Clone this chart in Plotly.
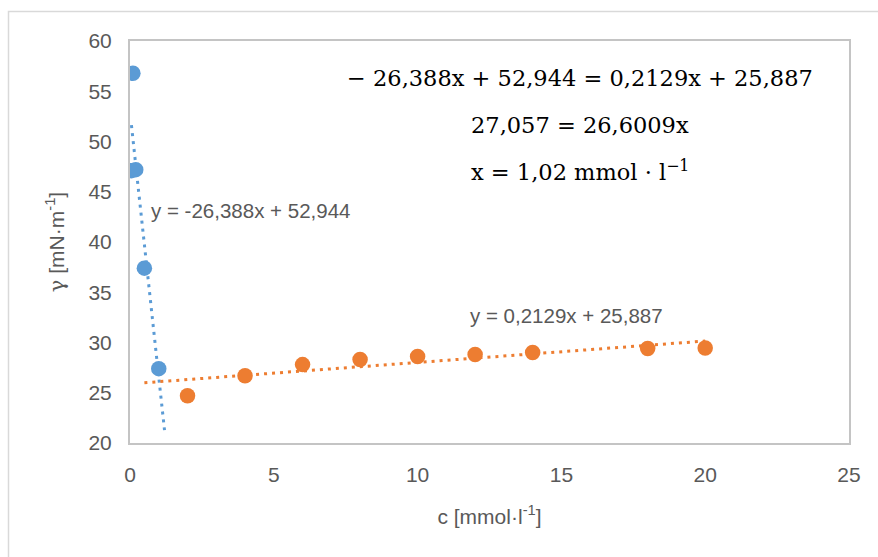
import plotly.graph_objects as go

# data
c_blue = [0.05, 0.1, 0.2, 0.5, 1.0]
g_blue = [47.1, 56.8, 47.2, 37.4, 27.4]
c_orange = [2, 4, 6, 8, 10, 12, 14, 18, 20]
g_orange = [24.7, 26.7, 27.8, 28.3, 28.6, 28.8, 29.0, 29.4, 29.45]
slopes = [-26.388, 0.2129]
intercepts = [52.944, 25.887]
forward = [0.2, 0.0]
backward = [0.0, 1.5]
x_ticks = [0, 5, 10, 15, 20, 25]
y_ticks = [20, 25, 30, 35, 40, 45, 50, 55, 60]

BLUE = "#5B9BD5"
ORANGE = "#ED7D31"
GRAY = "#595959"

fig = go.Figure()

series = [(c_blue, g_blue, BLUE), (c_orange, g_orange, ORANGE)]
for i, (xs, ys, col) in enumerate(series):
    x0 = min(xs) - backward[i]
    x1 = max(xs) + forward[i]
    fig.add_trace(go.Scatter(
        x=[x0, x1], y=[slopes[i] * x0 + intercepts[i], slopes[i] * x1 + intercepts[i]],
        mode="lines", line=dict(color=col, width=3, dash="3px,5px"),
        showlegend=False, hoverinfo="skip"))
for xs, ys, col in series:
    fig.add_trace(go.Scatter(x=xs, y=ys, mode="markers",
                             marker=dict(color=col, size=15.5),
                             showlegend=False))

def fmt(v):
    return f"{v}".replace(".", ",")

lbl_font = dict(family="Liberation Sans", size=20.5, color=GRAY)
fig.add_annotation(x=(149 - 130) / 719, y=(443 - 210) / 402, xref="paper", yref="paper",
                   text=f"y = {fmt(slopes[0])}x + {fmt(intercepts[0])}",
                   showarrow=False, xanchor="left", yanchor="middle", font=lbl_font)
fig.add_annotation(x=(468 - 130) / 719, y=(443 - 315) / 402, xref="paper", yref="paper",
                   text=f"y = {fmt(slopes[1])}x + {fmt(intercepts[1])}",
                   showarrow=False, xanchor="left", yanchor="middle", font=lbl_font)

eq_font = dict(family="DejaVu Serif", size=22.5, color="#000000")
eqs = [
    "−\u00a026,388x\u00a0+\u00a052,944\u00a0=\u00a00,2129x\u00a0+\u00a025,887",
    "27,057\u00a0=\u00a026,6009x",
    "x\u00a0=\u00a01,02\u00a0mmol\u00a0·\u00a0l<sup>−1</sup>",
]
for t, py in zip(eqs, [78, 125, 170]):
    fig.add_annotation(x=(580 - 130) / 719, y=(443 - py) / 402, xref="paper", yref="paper",
                       text=t, showarrow=False, xanchor="center", yanchor="middle",
                       font=eq_font)

# outer chart border
fig.add_shape(type="rect", xref="paper", yref="paper",
              x0=(8.5 - 130) / 719, x1=(885 - 130) / 719,
              y0=(443 - 565) / 402, y1=(443 - 11.5) / 402,
              line=dict(color="#d9d9d9", width=1.5), layer="below")

tick_font = dict(family="Liberation Sans", size=21, color=GRAY)
axis_common = dict(showgrid=False, zeroline=False, showline=True, mirror=True,
                   linecolor="#c4c4c4", linewidth=2, ticks="", tickfont=tick_font)

fig.update_xaxes(range=[0, 25], tickvals=x_ticks, ticktext=[str(v) for v in x_ticks],
                 title=dict(text="c [mmol·l<sup>-1</sup>]",
                            font=dict(family="Liberation Sans", size=21, color=GRAY),
                            standoff=24),
                 ticklabelstandoff=12, **axis_common)
fig.update_yaxes(range=[20, 60], tickvals=y_ticks, ticktext=[str(v) for v in y_ticks],
                 title=dict(text="<span style='font-family:DejaVu Serif'>γ</span> [mN·m<sup>-1</sup>]",
                            font=dict(family="Liberation Sans", size=21, color=GRAY),
                            standoff=18),
                 ticklabelstandoff=12, **axis_common)

fig.update_layout(width=878, height=557,
                  margin=dict(l=130, r=29, t=41, b=114),
                  paper_bgcolor="white", plot_bgcolor="white")

fig.write_html("out.html")
